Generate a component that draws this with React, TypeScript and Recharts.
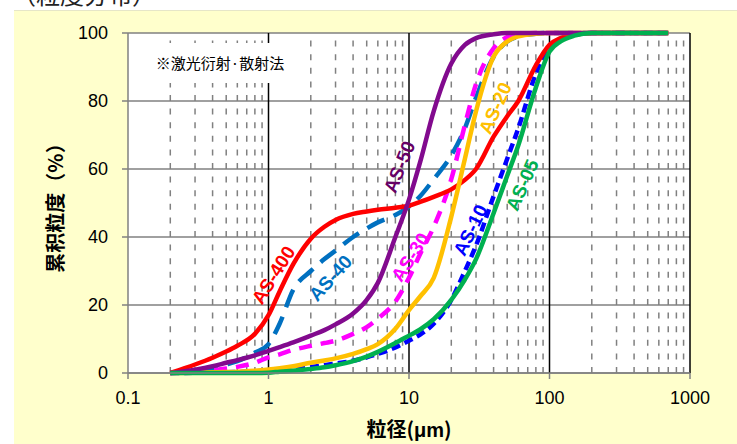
import { LineChart, Line, XAxis, YAxis, CartesianGrid, ReferenceLine, ReferenceDot } from "recharts";

// particle size (µm) sampling points shared by all curves
const sizes = [0.2, 0.3, 0.4, 0.5, 0.6, 0.8, 1, 1.2, 1.5, 2, 2.5, 3, 4, 5, 6, 8, 10, 12, 15, 20, 25, 30, 40, 50, 60, 80, 100, 120, 150, 200, 300, 500, 700];

// cumulative %, one value per size
const as400 = [0, 2.5, 4.5, 6.3, 8, 11.5, 17, 24, 32, 39.5, 43, 45, 46.8, 47.5, 48, 48.6, 49.2, 50.3, 51.8, 54, 56.8, 60, 69.5, 75.5, 80, 90.5, 96.5, 98.5, 99.5, 100, 100, 100, 100];
const as40 = [0, 0.5, 1.5, 2.5, 3.5, 6, 8.5, 14.5, 24.5, 30, 33.5, 36, 40, 42.5, 44.3, 46.5, 49, 52, 57, 64, 72, 81, 93, 97.5, 99, 99.8, 100, 100, 100, 100, 100, 100, 100];
const as50 = [0, 1, 2, 3, 3.8, 5.2, 6.5, 7.6, 9, 11, 12.6, 14.3, 17.5, 21.5, 26.5, 40, 51, 62, 77, 91, 96.5, 98.5, 99.6, 100, 100, 100, 100, 100, 100, 100, 100, 100, 100];
const as30 = [0, 0.3, 0.8, 1.3, 1.8, 3, 4.6, 5.5, 6.8, 8, 8.8, 9.5, 11.5, 13.5, 16, 21, 28, 35, 43, 57, 73, 85, 95.5, 98.8, 99.6, 100, 100, 100, 100, 100, 100, 100, 100];
const as20 = [0, 0.1, 0.2, 0.3, 0.4, 0.7, 1, 1.4, 2, 3, 3.7, 4.3, 5.6, 7, 8.5, 13, 18.5, 22.5, 28, 46, 63, 77, 93, 97.5, 99, 99.8, 100, 100, 100, 100, 100, 100, 100];
const as10 = [0, 0.05, 0.1, 0.2, 0.3, 0.5, 0.7, 0.9, 1.3, 1.8, 2.3, 2.8, 3.6, 4.6, 5.6, 7.5, 9.5, 11.3, 14.5, 21.5, 30, 37.5, 52, 63, 72, 88, 95.5, 98.3, 99.5, 100, 100, 100, 100];
const as05 = [0, 0, 0, 0, 0, 0, 0.1, 0.4, 0.7, 1.2, 1.7, 2.3, 3.5, 4.8, 6.2, 8.8, 11, 12.8, 15.8, 21.5, 27.5, 33.5, 47, 58, 67, 84, 94.5, 97.5, 99.2, 100, 100, 100, 100];

const xTicks = [0.1, 1, 10, 100, 1000];
const yTicks = [0, 20, 40, 60, 80, 100];
const majorX = [1, 10, 100];
const minorX = [0.2, 0.3, 0.4, 0.5, 0.6, 0.7, 0.8, 0.9, 2, 3, 4, 5, 6, 7, 8, 9, 20, 30, 40, 50, 60, 70, 80, 90, 200, 300, 400, 500, 600, 700, 800, 900];

const data = sizes.map((d, i) => ({
  d,
  as400: as400[i],
  as40: as40[i],
  as50: as50[i],
  as30: as30[i],
  as20: as20[i],
  as10: as10[i],
  as05: as05[i],
}));

// drawing order bottom -> top
const series = [
  { key: "as40", color: "#0070C0", dash: "19 10" },
  { key: "as30", color: "#FF00FF", dash: "13 9" },
  { key: "as10", color: "#0000FF", dash: "9 5" },
  { key: "as400", color: "#FF0000", dash: undefined },
  { key: "as20", color: "#FFC000", dash: undefined },
  { key: "as50", color: "#820A8E", dash: undefined },
  { key: "as05", color: "#00B050", dash: undefined },
];

// in-plot curve names: anchor (size, %) and rotation
const curveLabels = [
  { text: "AS-400", d: 1.085, v: 28.8, rot: -58, color: "#FF0000" },
  { text: "AS-40", d: 2.76, v: 27.9, rot: -48, color: "#0070C0" },
  { text: "AS-50", d: 8.56, v: 60.6, rot: -68, color: "#660066" },
  { text: "AS-30", d: 10.25, v: 34.1, rot: -57, color: "#FF00FF" },
  { text: "AS-20", d: 41.2, v: 77.9, rot: -66, color: "#FFC000" },
  { text: "AS-10", d: 27.4, v: 42, rot: -64, color: "#0000FF" },
  { text: "AS-05", d: 64.1, v: 55.3, rot: -66, color: "#00B050" },
];

const FONT = "'Liberation Sans', Arial, sans-serif";
const CJK = "'Noto Sans CJK JP', 'Noto Sans CJK SC', sans-serif";

function CurveLabel({ viewBox, text, color, rot }: any) {
  if (!viewBox) return null;
  const cx = viewBox.x + (viewBox.width || 0) / 2;
  const cy = viewBox.y + (viewBox.height || 0) / 2;
  return (
    <text
      x={cx}
      y={cy}
      fill={color}
      fontSize={19}
      fontWeight="bold"
      fontFamily={FONT}
      textAnchor="middle"
      dominantBaseline="central"
      transform={`rotate(${rot} ${cx} ${cy})`}
    >
      {text}
    </text>
  );
}

export default function App() {
  return (
    <div style={{ position: "absolute", left: 0, top: 0, width: 737, height: 444, overflow: "hidden", background: "#fff" }}>
      <div
        style={{
          position: "absolute",
          left: 12,
          top: -18,
          fontSize: 24,
          lineHeight: "24px",
          fontFamily: CJK,
          color: "#222",
        }}
      >
        （粒度分布）
      </div>
      <div style={{ position: "absolute", left: 14, top: 10, right: 0, bottom: 0, background: "#FFFFCC", borderTop: "1px solid #E6E6C8" }} />
      <div style={{ position: "absolute", left: 0, top: 0 }}>
        <LineChart width={737} height={444} data={data} margin={{ top: 33, right: 47, bottom: 0, left: 0 }}>
          <CartesianGrid vertical={false} stroke="#808080" strokeWidth={1.5} fill="#FFFFFF" fillOpacity={1} />
          <XAxis
            dataKey="d"
            type="number"
            scale="log"
            domain={[0.1, 1000]}
            ticks={xTicks}
            allowDataOverflow
            height={71}
            tickSize={6}
            tickMargin={12}
            tickFormatter={(v) => String(v)}
            stroke="#808080"
            strokeWidth={1.5}
            tick={{ fill: "#000", fontSize: 18, fontFamily: FONT }}
          />
          <YAxis
            type="number"
            domain={[0, 100]}
            ticks={yTicks}
            width={128}
            tickSize={6}
            tickMargin={14}
            stroke="#808080"
            strokeWidth={1.5}
            tick={{ fill: "#000", fontSize: 18, fontFamily: FONT }}
          />
          {minorX.map((x) => (
            <ReferenceLine key={"m" + x} x={x} stroke="#808080" strokeWidth={1.5} strokeDasharray="6 7.6" zIndex={-50} />
          ))}
          {majorX.map((x) => (
            <ReferenceLine key={"M" + x} x={x} stroke="#000" strokeWidth={1.5} zIndex={-50} />
          ))}
          <ReferenceLine x={1000} stroke="#000" strokeWidth={1.5} zIndex={-50} />
          {series.map((s) => (
            <Line
              key={s.key}
              dataKey={s.key}
              type="monotone"
              stroke={s.color}
              strokeWidth={4.5}
              strokeDasharray={s.dash}
              dot={false}
              activeDot={false}
              isAnimationActive={false}
            />
          ))}
          {curveLabels.map((l) => (
            <ReferenceDot
              key={l.text}
              x={l.d}
              y={l.v}
              r={1}
              fill="none"
              stroke="none"
              label={<CurveLabel text={l.text} color={l.color} rot={l.rot} />}
            />
          ))}
        </LineChart>
      </div>
      <div
        style={{
          position: "absolute",
          left: 142,
          top: 43,
          width: 156,
          height: 40,
          background: "#fff",
          fontFamily: CJK,
          fontSize: 15,
          lineHeight: "40px",
          textAlign: "center",
          color: "#000",
        }}
      >
        ※激光衍射·散射法
      </div>
      <div
        style={{
          position: "absolute",
          left: 54,
          top: 203,
          transform: "translate(-50%, -50%) rotate(-90deg)",
          whiteSpace: "nowrap",
          fontFamily: CJK,
          fontWeight: "bold",
          fontSize: 20,
          color: "#000",
        }}
      >
        累积粒度（%）
      </div>
      <div
        style={{
          position: "absolute",
          left: 409,
          top: 428,
          transform: "translate(-50%, -50%)",
          whiteSpace: "nowrap",
          fontFamily: CJK,
          fontWeight: "bold",
          fontSize: 20,
          color: "#000",
        }}
      >
        粒径(<span style={{ fontFamily: FONT }}>μm</span>)
      </div>
    </div>
  );
}
